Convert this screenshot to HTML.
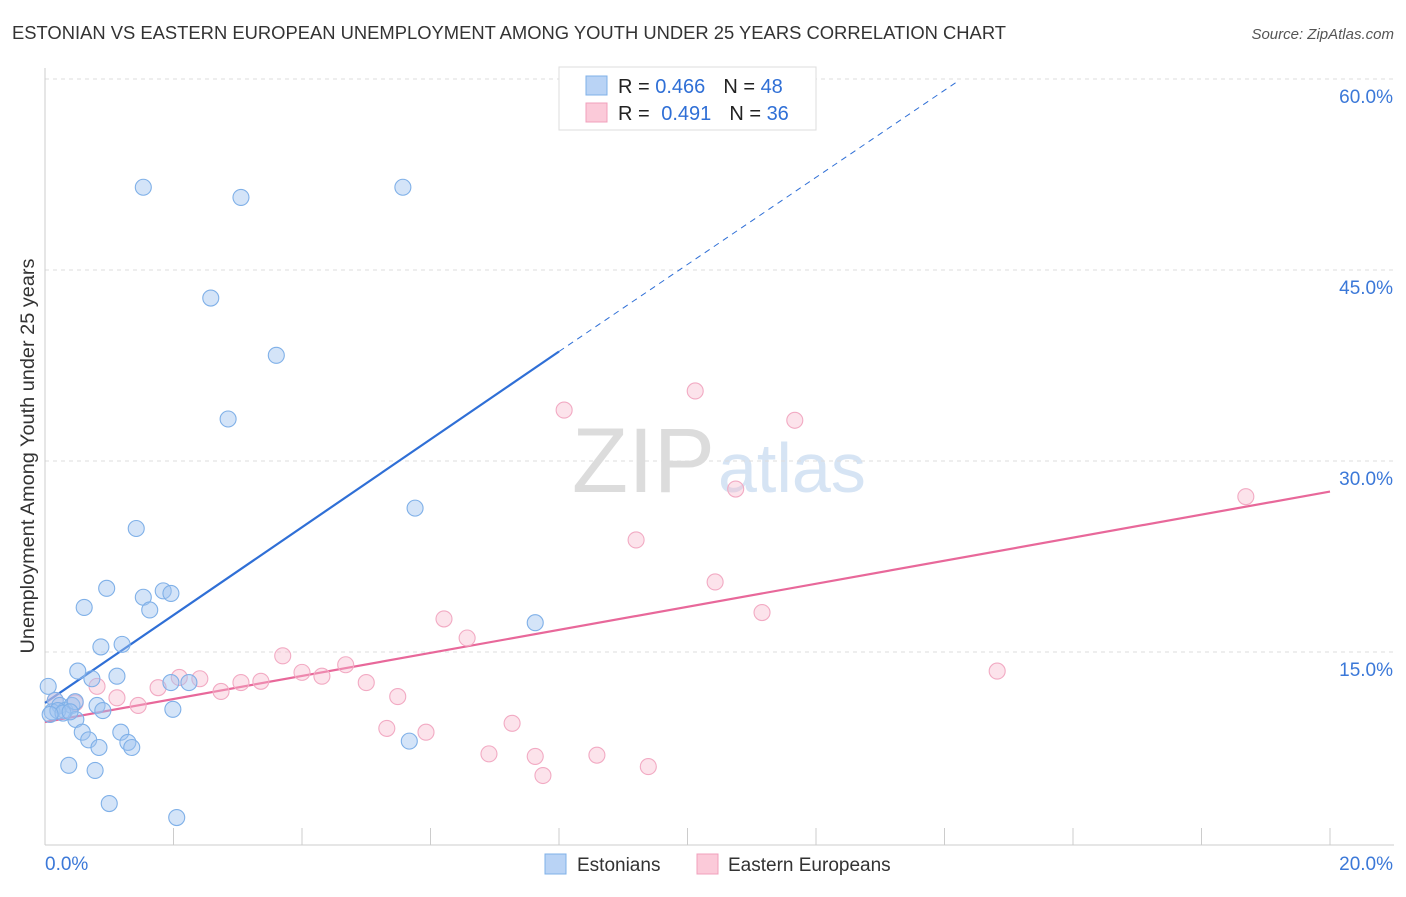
<!DOCTYPE html>
<html><head><meta charset="utf-8"><style>
body{margin:0;background:#fff;font-family:"Liberation Sans",sans-serif;}
svg text{font-family:"Liberation Sans",sans-serif;}
</style></head><body>
<svg id="chart" width="1406" height="892" xmlns="http://www.w3.org/2000/svg">
<text x="12" y="39" font-size="18" fill="#333" textLength="994" lengthAdjust="spacingAndGlyphs">ESTONIAN VS EASTERN EUROPEAN UNEMPLOYMENT AMONG YOUTH UNDER 25 YEARS CORRELATION CHART</text>
<text x="1394" y="39" font-size="15" fill="#555" font-style="italic" text-anchor="end">Source: ZipAtlas.com</text>
<text x="0" y="0" transform="translate(34,456) rotate(-90)" font-size="19" fill="#333" text-anchor="middle" textLength="395" lengthAdjust="spacingAndGlyphs">Unemployment Among Youth under 25 years</text>
<text x="715" y="492" font-size="92" fill="#dcdcdc" font-family="Liberation Serif" text-anchor="end">ZIP</text>
<text x="718" y="492" font-size="70" fill="#d6e4f4">atlas</text>
<g id="grid"></g><g id="axes"></g><g id="trend"></g><g id="pts"></g>
<g>
<rect x="559" y="67" width="257" height="63" fill="#fff" stroke="#ddd"/>
<rect x="586" y="76" width="21" height="19" fill="#b9d3f5" stroke="#7fb0e8"/>
<rect x="586" y="103" width="21" height="19" fill="#fbcad9" stroke="#f0a0bc"/>
<text x="618" y="93" font-size="20" fill="#222">R = <tspan fill="#2f6fd6">0.466</tspan><tspan dx="18">N = </tspan><tspan fill="#2f6fd6">48</tspan></text>
<text x="618" y="120" font-size="20" fill="#222">R = <tspan dx="6" fill="#2f6fd6">0.491</tspan><tspan dx="18">N = </tspan><tspan fill="#2f6fd6">36</tspan></text>
</g>
<g>
<rect x="545" y="854" width="21" height="20" fill="#b9d3f5" stroke="#7fb0e8"/>
<text x="577" y="871" font-size="19" fill="#333">Estonians</text>
<rect x="697" y="854" width="21" height="20" fill="#fbcad9" stroke="#f0a0bc"/>
<text x="728" y="871" font-size="19" fill="#333">Eastern Europeans</text>
</g>
</svg>
<script>
const blueX=[1.53,3.05,5.57,2.58,3.60,2.85,5.76,1.42,0.96,0.61,1.53,1.84,1.96,1.63,0.87,1.20,0.51,1.12,0.73,1.96,2.24,7.63,0.05,0.16,0.23,0.31,0.42,0.11,0.81,0.90,0.48,0.58,0.68,0.84,1.18,1.29,1.35,5.67,0.37,0.78,1.00,2.05,1.99,0.20,0.28,0.47,0.08,0.39];
const blueY=[51.5,50.7,51.5,42.8,38.3,33.3,26.3,24.7,20.0,18.5,19.3,19.8,19.6,18.3,15.4,15.6,13.5,13.1,12.9,12.6,12.6,17.3,12.3,11.2,10.8,10.4,10.8,10.3,10.8,10.4,9.7,8.7,8.1,7.5,8.7,7.9,7.5,8.0,6.1,5.7,3.1,2.0,10.5,10.4,10.2,11.1,10.1,10.3];
const pinkX=[8.08,10.12,11.67,10.75,18.69,9.20,10.43,11.16,6.21,6.57,14.82,3.70,4.68,4.00,4.31,2.09,2.41,3.36,3.05,5.00,0.81,1.76,2.74,1.12,5.49,1.45,0.47,0.16,7.27,5.32,5.93,6.91,7.63,8.59,7.75,9.39];
const pinkY=[34.0,35.5,33.2,27.8,27.2,23.8,20.5,18.1,17.6,16.1,13.5,14.7,14.0,13.4,13.1,13.0,12.9,12.7,12.6,12.6,12.3,12.2,11.9,11.4,11.5,10.8,11.0,11.2,9.4,9.0,8.7,7.0,6.8,6.9,5.3,6.0];
const yTicks=[15,30,45,60];
const yTickLabels=["15.0%","30.0%","45.0%","60.0%"];
const xTicks=[0,2,4,6,8,10,12,14,16,18,20];
const blueTrend=[0,11.0,8,38.6,14.2,59.8];
const pinkTrend=[0,9.5,20,27.6];
const NS="http://www.w3.org/2000/svg";
const sx=v=>45+v*64.25, sy=v=>843-v*12.733;
function mk(t,a,p){const e=document.createElementNS(NS,t);for(const k in a)e.setAttribute(k,a[k]);p.appendChild(e);return e;}
const grid=document.getElementById('grid'),axes=document.getElementById('axes'),tr=document.getElementById('trend'),pts=document.getElementById('pts');
yTicks.forEach((v,i)=>{
 const l=mk('line',{x1:45,x2:1394,y1:sy(v),y2:sy(v),stroke:'#ddd','stroke-dasharray':'4,4'},grid);
 
 
 const t=mk('text',{x:1393,y:sy(v)+24,'font-size':19,fill:'#3b78d8','text-anchor':'end'},axes);t.textContent=yTickLabels[i];
 
 
});
mk('line',{x1:45,x2:45,y1:68,y2:845,stroke:'#ccc'},axes);
mk('line',{x1:45,x2:1394,y1:845,y2:845,stroke:'#ccc'},axes);
xTicks.forEach(v=>{const l=mk('line',{x1:sx(v),x2:sx(v),y1:828,y2:845,stroke:'#ccc'},axes);
 
 });
let t0=mk('text',{x:45,y:870,'font-size':19,fill:'#3b78d8'},axes);t0.textContent='0.0%';


let t1=mk('text',{x:1393,y:870,'font-size':19,fill:'#3b78d8','text-anchor':'end'},axes);t1.textContent='20.0%';


let bl=mk('line',{x1:sx(blueTrend[0]),y1:sy(blueTrend[1]),x2:sx(blueTrend[2]),y2:sy(blueTrend[3]),stroke:'#2f6fd6','stroke-width':2.2},tr);


let bd=mk('line',{x1:sx(blueTrend[2]),y1:sy(blueTrend[3]),x2:sx(blueTrend[4]),y2:sy(blueTrend[5]),stroke:'#2f6fd6','stroke-width':1,'stroke-dasharray':'6,5'},tr);


let pl=mk('line',{x1:sx(pinkTrend[0]),y1:sy(pinkTrend[1]),x2:sx(pinkTrend[2]),y2:sy(pinkTrend[3]),stroke:'#e8689a','stroke-width':2.2},tr);


pinkX.forEach((x,i)=>{const c=mk('circle',{cx:sx(x),cy:sy(pinkY[i]),r:8,fill:'rgba(248,185,205,0.4)',stroke:'#f2aac3','stroke-width':1.1},pts);
 
 });
blueX.forEach((x,i)=>{const c=mk('circle',{cx:sx(x),cy:sy(blueY[i]),r:8,fill:'rgba(160,196,240,0.45)',stroke:'#7fb0e8','stroke-width':1.1},pts);
 
 });
</script>
</body></html>
